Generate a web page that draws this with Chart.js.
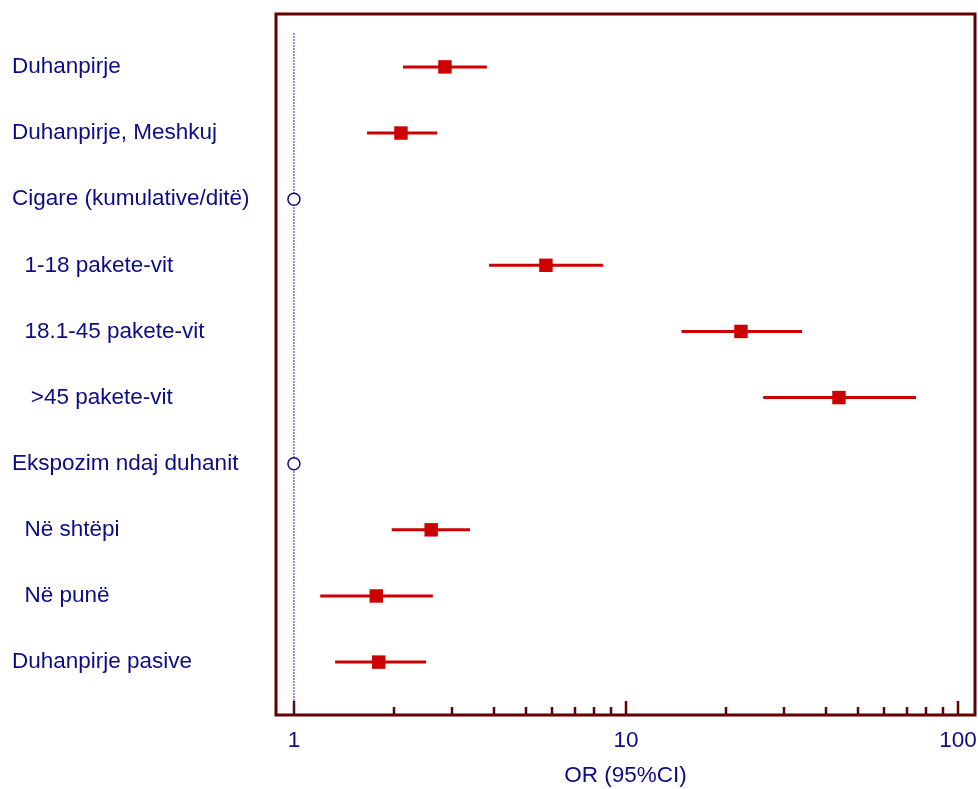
<!DOCTYPE html>
<html>
<head>
<meta charset="utf-8">
<script src="https://cdn.jsdelivr.net/npm/chart.js@4"></script>
<style>
  html, body { margin: 0; padding: 0; background: #ffffff; }
  #wrap { width: 978px; height: 789px; position: relative; }
</style>
</head>
<body>
<div id="wrap"><canvas id="c"></canvas></div>
<script>
// ---- data ----
const categories = [
  'Duhanpirje',
  'Duhanpirje, Meshkuj',
  'Cigare (kumulative/ditë)',
  '  1-18 pakete-vit',
  '  18.1-45 pakete-vit',
  '   >45 pakete-vit',
  'Ekspozim ndaj duhanit',
  '  Në shtëpi',
  '  Në punë',
  'Duhanpirje pasive'
];
const oddsRatio = [2.85, 2.10, null, 5.74, 22.2, 43.8, null, 2.59, 1.77, 1.80];
const ciLower   = [2.13, 1.66, null, 3.87, 14.7, 25.9, null, 1.97, 1.20, 1.33];
const ciUpper   = [3.81, 2.70, null, 8.53, 33.9, 74.7, null, 3.39, 2.62, 2.50];
const referenceRows = [3, 7];      // rows shown as reference category (OR = 1)
const referenceValue = 1;
const xTickValues = [1,2,3,4,5,6,7,8,9,10,20,30,40,50,60,70,80,90,100];
const xTickLabels = ['1', '10', '100'];
const xAxisTitle = 'OR (95%CI)';

// ---- styles ----
const NAVY = '#0c0c86';
const RED = '#cc0000';
const FRAME = '#660000';
const FONT = '"Liberation Sans", Arial, sans-serif';

// build datasets from the arrays
const ciPoints = [];
const orPoints = [];
categories.forEach((c, i) => {
  if (oddsRatio[i] != null) {
    ciPoints.push({x: ciLower[i], y: i + 1}, {x: ciUpper[i], y: i + 1}, {x: null, y: null});
    orPoints.push({x: oddsRatio[i], y: i + 1});
  }
});
const refPoints = referenceRows.map(r => ({x: referenceValue, y: r}));

const framePlugin = {
  id: 'frameTicks',
  beforeDatasetsDraw(chart) {
    const {ctx, chartArea: a} = chart;
    const xs = chart.scales.x;
    ctx.save();
    ctx.strokeStyle = FRAME;
    ctx.lineWidth = 3;
    ctx.strokeRect(a.left, a.top, a.right - a.left, a.bottom - a.top);
    ctx.lineWidth = 2.5;
    xs.ticks.forEach(t => {
      const px = Math.round(xs.getPixelForValue(t.value));
      const major = Math.abs(Math.log10(t.value) - Math.round(Math.log10(t.value))) < 1e-9;
      const len = major ? 14 : 8;
      ctx.beginPath();
      ctx.moveTo(px, a.bottom);
      ctx.lineTo(px, a.bottom - len);
      ctx.stroke();
    });
    ctx.restore();
  }
};

new Chart(document.getElementById('c'), {
  type: 'scatter',
  data: {
    datasets: [
      {
        type: 'line',
        data: [{x: referenceValue, y: 0.49}, {x: referenceValue, y: 10.8}],
        borderColor: '#1f1fd4',
        borderWidth: 1.3,
        borderDash: [1.5, 1.5],
        pointRadius: 0,
        order: 4
      },
      {
        type: 'line',
        data: ciPoints,
        borderColor: RED,
        borderWidth: 3,
        pointRadius: 0,
        spanGaps: false,
        order: 3
      },
      {
        data: orPoints,
        pointStyle: 'rect',
        pointRadius: 9.5,
        pointBackgroundColor: RED,
        pointBorderWidth: 0,
        order: 1
      },
      {
        data: refPoints,
        pointStyle: 'circle',
        pointRadius: 6,
        pointBackgroundColor: '#ffffff',
        pointBorderColor: NAVY,
        pointBorderWidth: 1.5,
        order: 2
      }
    ]
  },
  options: {
    responsive: true,
    maintainAspectRatio: false,
    animation: false,
    events: [],
    layout: { autoPadding: false, padding: { left: 12, right: 3, top: 14, bottom: 0 } },
    plugins: { legend: { display: false }, tooltip: { enabled: false } },
    scales: {
      x: {
        type: 'logarithmic',
        min: 0.883,
        max: 112.5,
        grid: { display: false, drawTicks: false },
        border: { display: false },
        afterBuildTicks: axis => { axis.ticks = xTickValues.map(v => ({value: v})); },
        afterFit: axis => { axis.height = 74; axis.paddingLeft = 0; axis.paddingRight = 0; },
        ticks: {
          autoSkip: false,
          maxRotation: 0,
          padding: 12,
          color: NAVY,
          font: { family: FONT, size: 22.5 },
          callback: v => {
            const s = String(v);
            return xTickLabels.includes(s) ? s : '';
          }
        },
        title: {
          display: true,
          text: xAxisTitle,
          color: NAVY,
          font: { family: FONT, size: 22.5 },
          padding: { top: 0, bottom: 0 }
        }
      },
      y: {
        type: 'linear',
        reverse: true,
        min: 0.2,
        max: 10.8,
        grid: { display: false, drawTicks: false },
        border: { display: false },
        afterBuildTicks: axis => { axis.ticks = categories.map((c, i) => ({value: i + 1})); },
        afterFit: axis => { axis.width = 264; axis.paddingTop = 0; axis.paddingBottom = 0; },
        ticks: {
          autoSkip: false,
          crossAlign: 'far',
          color: NAVY,
          font: { family: FONT, size: 22.5 },
          callback: v => categories[v - 1] ?? ''
        }
      }
    }
  },
  plugins: [framePlugin]
});
</script>
</body>
</html>
